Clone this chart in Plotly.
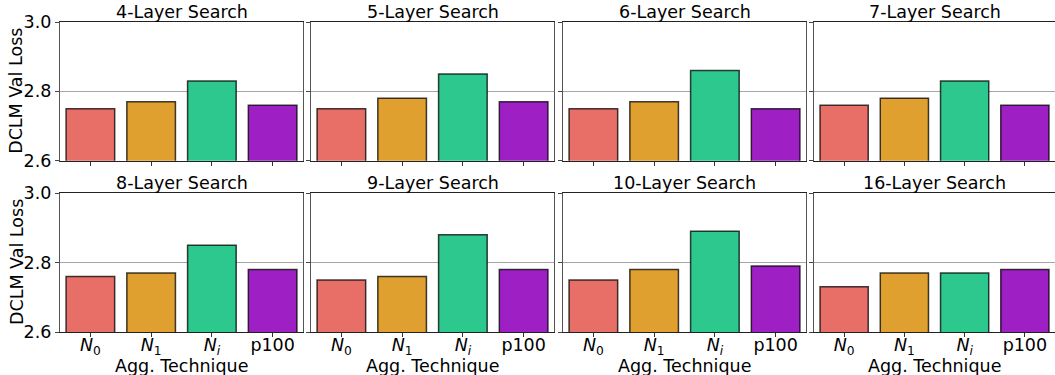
import plotly.graph_objects as go

# Aggregation techniques on the x axis (HTML for the subscripted N labels)
techniques = ["N0", "N1", "Ni", "p100"]
tick_text = ["<i>N</i><sub>0</sub>", "<i>N</i><sub>1</sub>", "<i>N</i><sub><i>i</i></sub>", "p100"]

# One panel per search depth
panel_titles = ["4-Layer Search", "5-Layer Search", "6-Layer Search", "7-Layer Search",
                "8-Layer Search", "9-Layer Search", "10-Layer Search", "16-Layer Search"]

# DCLM validation loss per technique, one list per panel
loss_4 = [2.75, 2.77, 2.83, 2.76]
loss_5 = [2.75, 2.78, 2.85, 2.77]
loss_6 = [2.75, 2.77, 2.86, 2.75]
loss_7 = [2.76, 2.78, 2.83, 2.76]
loss_8 = [2.76, 2.77, 2.85, 2.78]
loss_9 = [2.75, 2.76, 2.88, 2.78]
loss_10 = [2.75, 2.78, 2.89, 2.79]
loss_16 = [2.73, 2.77, 2.77, 2.78]
panel_values = [loss_4, loss_5, loss_6, loss_7, loss_8, loss_9, loss_10, loss_16]

y_ticks = [2.6, 2.8, 3.0]
y_tick_text = ["2.6", "2.8", "3.0"]

bar_colors = ["#e86e68", "#e0a02f", "#2dc88e", "#9e1fc3"]

W, H = 1055, 375
col_px = [(60, 303), (311, 554), (563, 806), (814, 1055)]
row_px = [(22, 160.7), (193, 332)]
title_center_px = [12.5, 183]

FONT = "DejaVu Sans"
TXT = 17.5
fig = go.Figure()
layout = {}
annotations = []

for i, (title, vals) in enumerate(zip(panel_titles, panel_values)):
    r, c = divmod(i, 4)
    n = i + 1
    xa = "xaxis" if n == 1 else f"xaxis{n}"
    ya = "yaxis" if n == 1 else f"yaxis{n}"
    xref = "x" if n == 1 else f"x{n}"
    yref = "y" if n == 1 else f"y{n}"

    x0, x1 = col_px[c]
    yt, yb = row_px[r]
    xd = [x0 / W, min(x1 / W, 1.0)]
    yd = [1 - yb / H, 1 - yt / H]

    fig.add_trace(go.Bar(
        x=list(range(len(techniques))), y=vals,
        marker=dict(color=bar_colors, line=dict(color="rgba(0,0,0,0.75)", width=1.5)),
        width=0.8, xaxis=xref, yaxis=yref, showlegend=False,
        hovertext=techniques,
    ))

    layout[xa] = dict(
        domain=xd, anchor=yref, range=[-0.5, 3.5], automargin=False,
        tickmode="array", tickvals=list(range(4)), ticktext=tick_text,
        showticklabels=(r == 1),
        ticks="outside", ticklen=4, tickcolor="#333",
        ticklabelstandoff=-7,
        showline=True, linecolor="#222", linewidth=1.2, mirror=True,
        showgrid=False, zeroline=False,
        tickfont=dict(family=FONT, size=TXT, color="black"),
        fixedrange=True,
    )
    layout[ya] = dict(
        domain=yd, anchor=xref, range=[2.6, 3.0], automargin=False,
        tickmode="array", tickvals=y_ticks, ticktext=y_tick_text,
        showticklabels=(c == 0),
        ticks="outside", ticklen=4, tickcolor="#444",
        showline=True, linecolor="#555", linewidth=1.2, mirror=(c < 3),
        showgrid=True, gridcolor="rgba(0,0,0,0.35)", gridwidth=1,
        zeroline=False, layer="above traces",
        tickfont=dict(family=FONT, size=TXT, color="black"),
        fixedrange=True,
    )

    # panel title
    annotations.append(dict(
        text=title, xref="paper", yref="paper",
        x=(x0 + x1) / 2 / W, y=1 - title_center_px[r] / H,
        xanchor="center", yanchor="middle", showarrow=False,
        font=dict(family=FONT, size=TXT, color="black"),
    ))
    # x-axis title under the bottom row
    if r == 1:
        annotations.append(dict(
            text="Agg. Technique", xref="paper", yref="paper",
            x=(x0 + x1) / 2 / W, y=1 - 366 / H,
            xanchor="center", yanchor="middle", showarrow=False,
            font=dict(family=FONT, size=TXT, color="black"),
        ))
    # y-axis title beside the first column
    if c == 0:
        annotations.append(dict(
            text="DCLM Val Loss", xref="paper", yref="paper",
            x=16.5 / W, y=1 - (yt + yb) / 2 / H, textangle=-90,
            xanchor="center", yanchor="middle", showarrow=False,
            font=dict(family=FONT, size=TXT, color="black"),
        ))

fig.update_layout(
    width=W, height=H,
    margin=dict(l=0, r=0, t=0, b=0),
    paper_bgcolor="white", plot_bgcolor="white",
    bargap=0.2,
    annotations=annotations,
    **layout,
)

fig.write_html("out.html", config={"displayModeBar": False})
